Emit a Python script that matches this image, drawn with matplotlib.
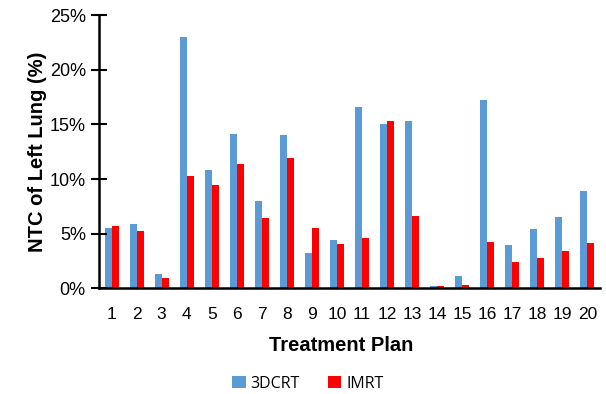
import numpy as np
import matplotlib
matplotlib.use("Agg")
import matplotlib.pyplot as plt
from matplotlib.ticker import PercentFormatter

plans = list(range(1, 21))
dcrt = [5.5, 5.9, 1.35, 23.0, 10.8, 14.1, 8.0, 14.0, 3.2, 4.4,
        16.6, 15.0, 15.35, 0.2, 1.1, 17.25, 4.0, 5.4, 6.5, 8.9]
imrt = [5.7, 5.3, 1.0, 10.25, 9.5, 11.35, 6.4, 11.95, 5.5, 4.1,
        4.6, 15.35, 6.6, 0.2, 0.3, 4.25, 2.4, 2.8, 3.4, 4.2]

plt.rcParams['font.family'] = ['Liberation Sans', 'DejaVu Sans']

fig = plt.figure(figsize=(6.06, 3.94), dpi=100)
ax = fig.add_axes([0.1634, 0.2678, 0.8267, 0.694])

x = np.array(plans)
w = 0.28
ax.bar(x - w/2, dcrt, w, color='#5B9BD5', label='3DCRT')
ax.bar(x + w/2, imrt, w, color='#FF0000', label='IMRT')

ax.set_xlim(0.5, 20.5)
ax.set_ylim(0, 25)
ax.set_yticks([0, 5, 10, 15, 20, 25])
ax.yaxis.set_major_formatter(PercentFormatter(decimals=0))
ax.set_xticks(x)

for s in ['top', 'right']:
    ax.spines[s].set_visible(False)
ax.spines['left'].set_linewidth(1.8)
ax.spines['bottom'].set_linewidth(1.8)
ax.tick_params(axis='y', direction='inout', length=12, width=1.5, labelsize=13, pad=3.5)
ax.tick_params(axis='x', length=0, labelsize=12.5, pad=13)

ax.set_ylabel('NTC of Left Lung (%)', fontsize=14.5, fontweight='bold', labelpad=2)
ax.set_xlabel('Treatment Plan', fontsize=14.5, fontweight='bold')
ax.xaxis.set_label_coords(0.483, -0.175)

ax.legend(loc='center', bbox_to_anchor=(0.417, -0.348), ncol=2, frameon=False,
          prop={'family': 'Open Sans', 'size': 11.5}, handlelength=0.85, handleheight=0.7,
          columnspacing=1.75, handletextpad=0.3)

fig.savefig('out.png', dpi=100)
